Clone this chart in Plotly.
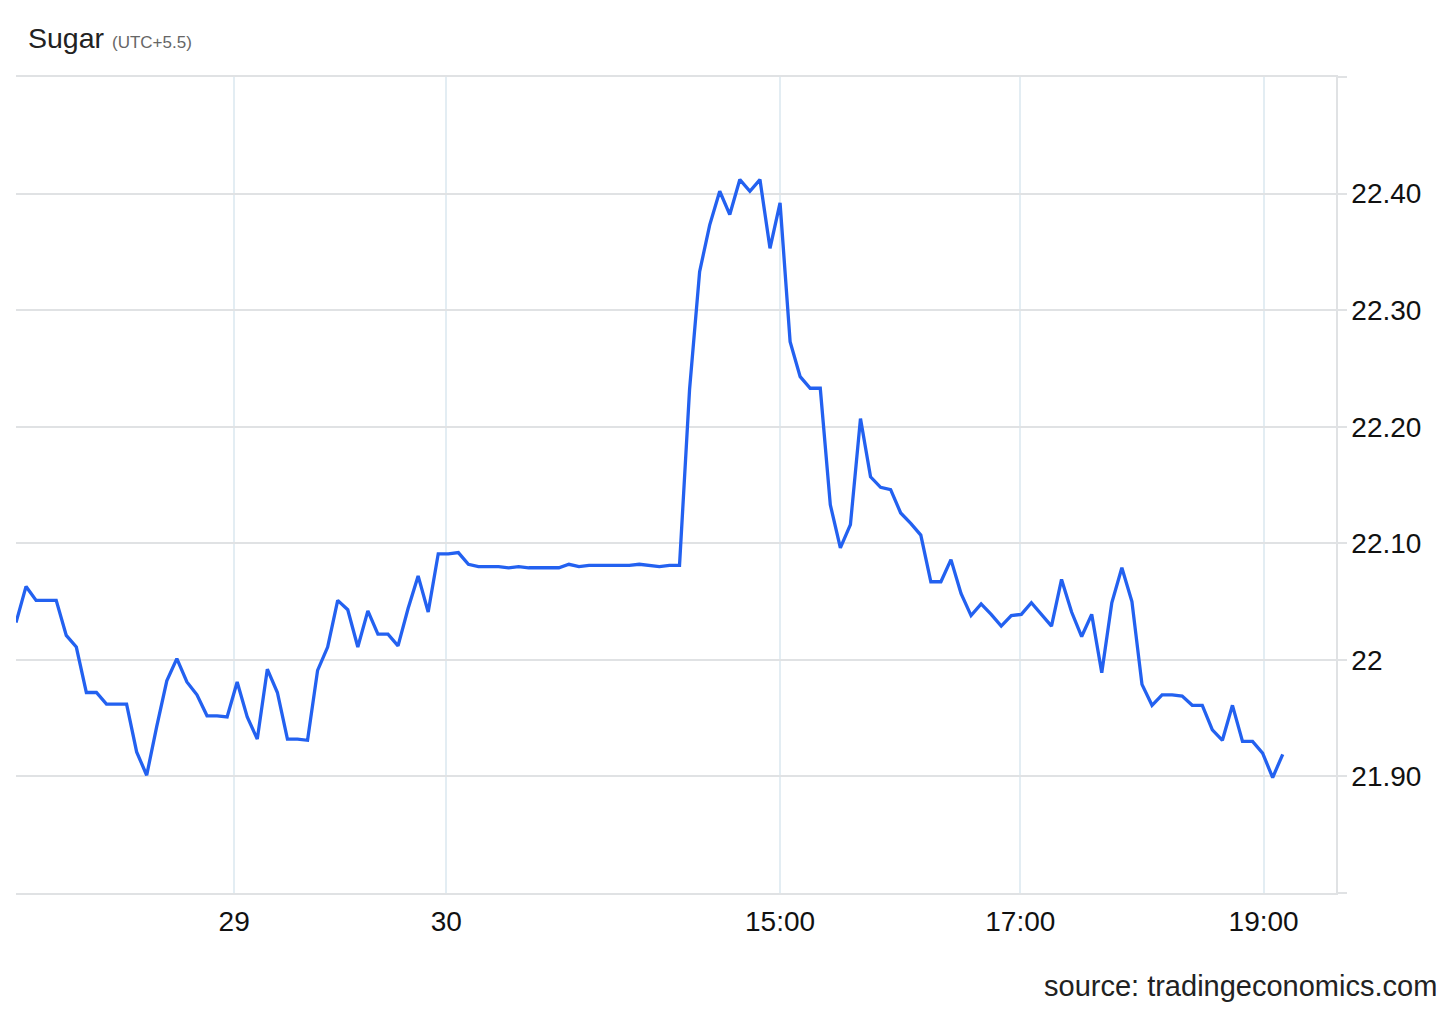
import plotly.graph_objects as go

# Price series (one point per sample, evenly spaced)
prices = [
    22.032, 22.063, 22.051, 22.051, 22.051, 22.021, 22.011, 21.972, 21.972, 21.962,
    21.962, 21.962, 21.921, 21.901, 21.943, 21.982, 22.001, 21.981, 21.970, 21.952,
    21.952, 21.951, 21.981, 21.951, 21.932, 21.992, 21.972, 21.932, 21.932, 21.931,
    21.991, 22.011, 22.051, 22.043, 22.011, 22.042, 22.022, 22.022, 22.012, 22.044,
    22.072, 22.041, 22.091, 22.091, 22.092, 22.082, 22.080, 22.080, 22.080, 22.079,
    22.080, 22.079, 22.079, 22.079, 22.079, 22.082, 22.080, 22.081, 22.081, 22.081,
    22.081, 22.081, 22.082, 22.081, 22.080, 22.081, 22.081, 22.232, 22.333, 22.373,
    22.402, 22.382, 22.412, 22.402, 22.412, 22.353, 22.392, 22.273, 22.243, 22.233,
    22.233, 22.133, 22.096, 22.116, 22.207, 22.157, 22.148, 22.146, 22.126, 22.117,
    22.107, 22.067, 22.067, 22.086, 22.057, 22.038, 22.048, 22.039, 22.029, 22.038,
    22.039, 22.049, 22.039, 22.029, 22.069, 22.041, 22.020, 22.039, 21.989, 22.049,
    22.079, 22.050, 21.979, 21.961, 21.970, 21.970, 21.969, 21.961, 21.961, 21.940,
    21.931, 21.961, 21.930, 21.930, 21.920, 21.899, 21.919,
]
sample_index = list(range(len(prices)))

# X-axis tick labels and their positions (in sample-index units)
x_tick_pos = [21.7, 42.8, 76.0, 99.9, 124.1]
x_tick_labels = ["29", "30", "15:00", "17:00", "19:00"]

# Y-axis ticks
y_tick_vals = [21.8, 21.9, 22.0, 22.1, 22.2, 22.3, 22.4, 22.5]
y_tick_labels = ["", "21.90", "22", "22.10", "22.20", "22.30", "22.40", ""]

FONT = "Liberation Sans, Arial, sans-serif"
GRID = "#e0e2e4"

# page body has an 8px margin; figure is sized to fill the rest of the window
W, H = 1448, 1001
L, T, PW, PH = 8, 69, 1320, 816

fig = go.Figure()
fig.add_trace(go.Scatter(
    x=sample_index, y=prices, mode="lines",
    line=dict(color="#2361f0", width=3.3),
    hoverinfo="skip", showlegend=False,
))

fig.update_layout(
    width=W, height=H,
    margin=dict(l=L, r=W - L - PW, t=T, b=H - T - PH, autoexpand=False),
    paper_bgcolor="white", plot_bgcolor="white",
    font=dict(family=FONT, color="#111", size=28),
    xaxis=dict(
        range=[0, 131.3],
        tickvals=x_tick_pos, ticktext=x_tick_labels,
        showgrid=True, gridcolor="#e3edf3", gridwidth=1.5,
        zeroline=False,
        showline=True, mirror=True, linecolor=GRID, linewidth=1.5,
        ticks="",
        ticklabelstandoff=3,
        tickfont=dict(size=28, color="#111", family=FONT),
    ),
    yaxis=dict(
        side="right",
        range=[21.8, 22.5],
        tickvals=y_tick_vals, ticktext=y_tick_labels,
        showgrid=True, gridcolor=GRID, gridwidth=1.5,
        zeroline=False,
        showline=True, linecolor=GRID, linewidth=1.5,
        ticks="outside", ticklen=9, tickcolor=GRID, tickwidth=1.5,
        ticklabelstandoff=-1,
        tickfont=dict(size=28, color="#111", family=FONT),
    ),
    annotations=[
        dict(
            text="Sugar <span style='font-size:17px;color:#666'>(UTC+5.5)</span>",
            xref="paper", yref="paper",
            x=(26 - 16) / PW, y=(893 - 38) / PH,
            xanchor="left", yanchor="middle", showarrow=False,
            font=dict(size=28.5, color="#222", family=FONT),
        ),
        dict(
            text="source: tradingeconomics.com",
            xref="paper", yref="paper",
            x=(1439 - 16) / PW, y=(893 - 986) / PH,
            xanchor="right", yanchor="middle", showarrow=False,
            font=dict(size=29, color="#222", family=FONT),
        ),
    ],
)

fig.write_html("out.html")
